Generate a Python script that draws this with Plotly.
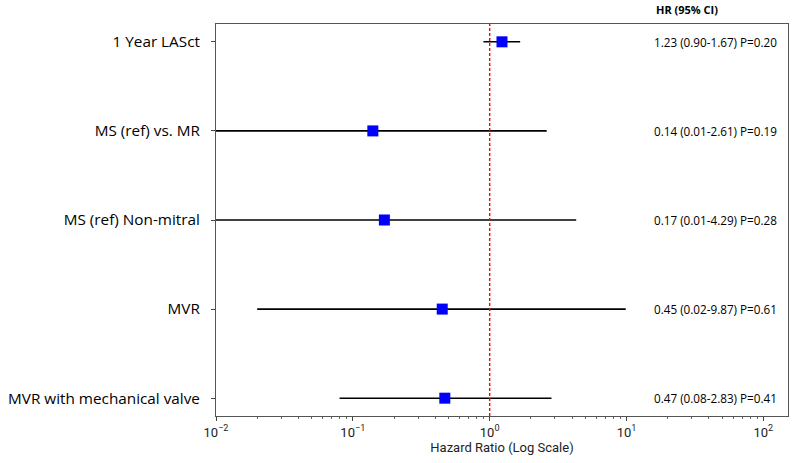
import plotly.graph_objects as go

labels = ["1 Year LASct", "MS (ref) vs. MR", "MS (ref) Non-mitral", "MVR", "MVR with mechanical valve"]
hr = [1.23, 0.14, 0.17, 0.45, 0.47]
ci_low = [0.90, 0.01, 0.01, 0.02, 0.08]
ci_high = [1.67, 2.61, 4.29, 9.87, 2.83]
pvals = ["0.20", "0.19", "0.28", "0.61", "0.41"]
tick_vals = [0.01, 0.1, 1, 10, 100]
tick_text = ["10<sup>\u22122</sup>", "10<sup>\u22121</sup>", "10<sup>0</sup>", "10<sup>1</sup>", "10<sup>2</sup>"]

ypos = list(range(len(labels)))
fig = go.Figure()

for i in ypos:
    fig.add_trace(go.Scatter(x=[ci_low[i], ci_high[i]], y=[i, i], mode="lines",
                             line=dict(color="black", width=1.6), showlegend=False, hoverinfo="skip"))

fig.add_trace(go.Scatter(x=hr, y=ypos, mode="markers",
                         marker=dict(symbol="square", size=11, color="blue"), showlegend=False))

fig.add_vline(x=1, line=dict(color="#ff0000", dash="3px,2px", width=1.4))

for i in ypos:
    fig.add_annotation(x=0.762, xref="paper", y=i, yref="y", xanchor="left", yanchor="middle",
                       text=f"{hr[i]:.2f} ({ci_low[i]:.2f}-{ci_high[i]:.2f}) P={pvals[i]}",
                       showarrow=False, font=dict(family="Open Sans", size=11.7, color="black"))

fig.add_annotation(x=0.765, xref="paper", y=1.036, yref="paper", xanchor="left", yanchor="middle",
                   text="<b>HR (95% CI)</b>", showarrow=False,
                   font=dict(family="Open Sans", size=11, color="black"))

fig.update_layout(
    width=795, height=463,
    margin=dict(l=216, r=7, t=24, b=47),
    plot_bgcolor="white", paper_bgcolor="white",
    font=dict(family="Open Sans", color="black"),
)
fig.update_xaxes(type="log", range=[-2, 2.18], tickvals=tick_vals, ticktext=tick_text,
                 ticks="outside", ticklen=4, tickcolor="#444", showline=True, linecolor="#555",
                 linewidth=1, mirror=True, showgrid=False, zeroline=False,
                 tickfont=dict(family="Roboto", size=13, color="#222"),
                 minor=dict(ticks="outside", ticklen=2, tickcolor="#666", dtick="D1", showgrid=False),
                 title=dict(text="Hazard Ratio (Log Scale)", font=dict(family="Roboto", size=13, color="#222"), standoff=2))
fig.update_yaxes(range=[4.2, -0.2], tickvals=ypos, ticktext=labels, ticks="outside", ticklen=4,
                 tickcolor="#444", showline=True, linecolor="#555", linewidth=1, mirror=True,
                 showgrid=False, zeroline=False, ticklabelstandoff=8,
                 tickfont=dict(family="Open Sans", size=15.3, color="black"))

fig.write_html("out.html")
